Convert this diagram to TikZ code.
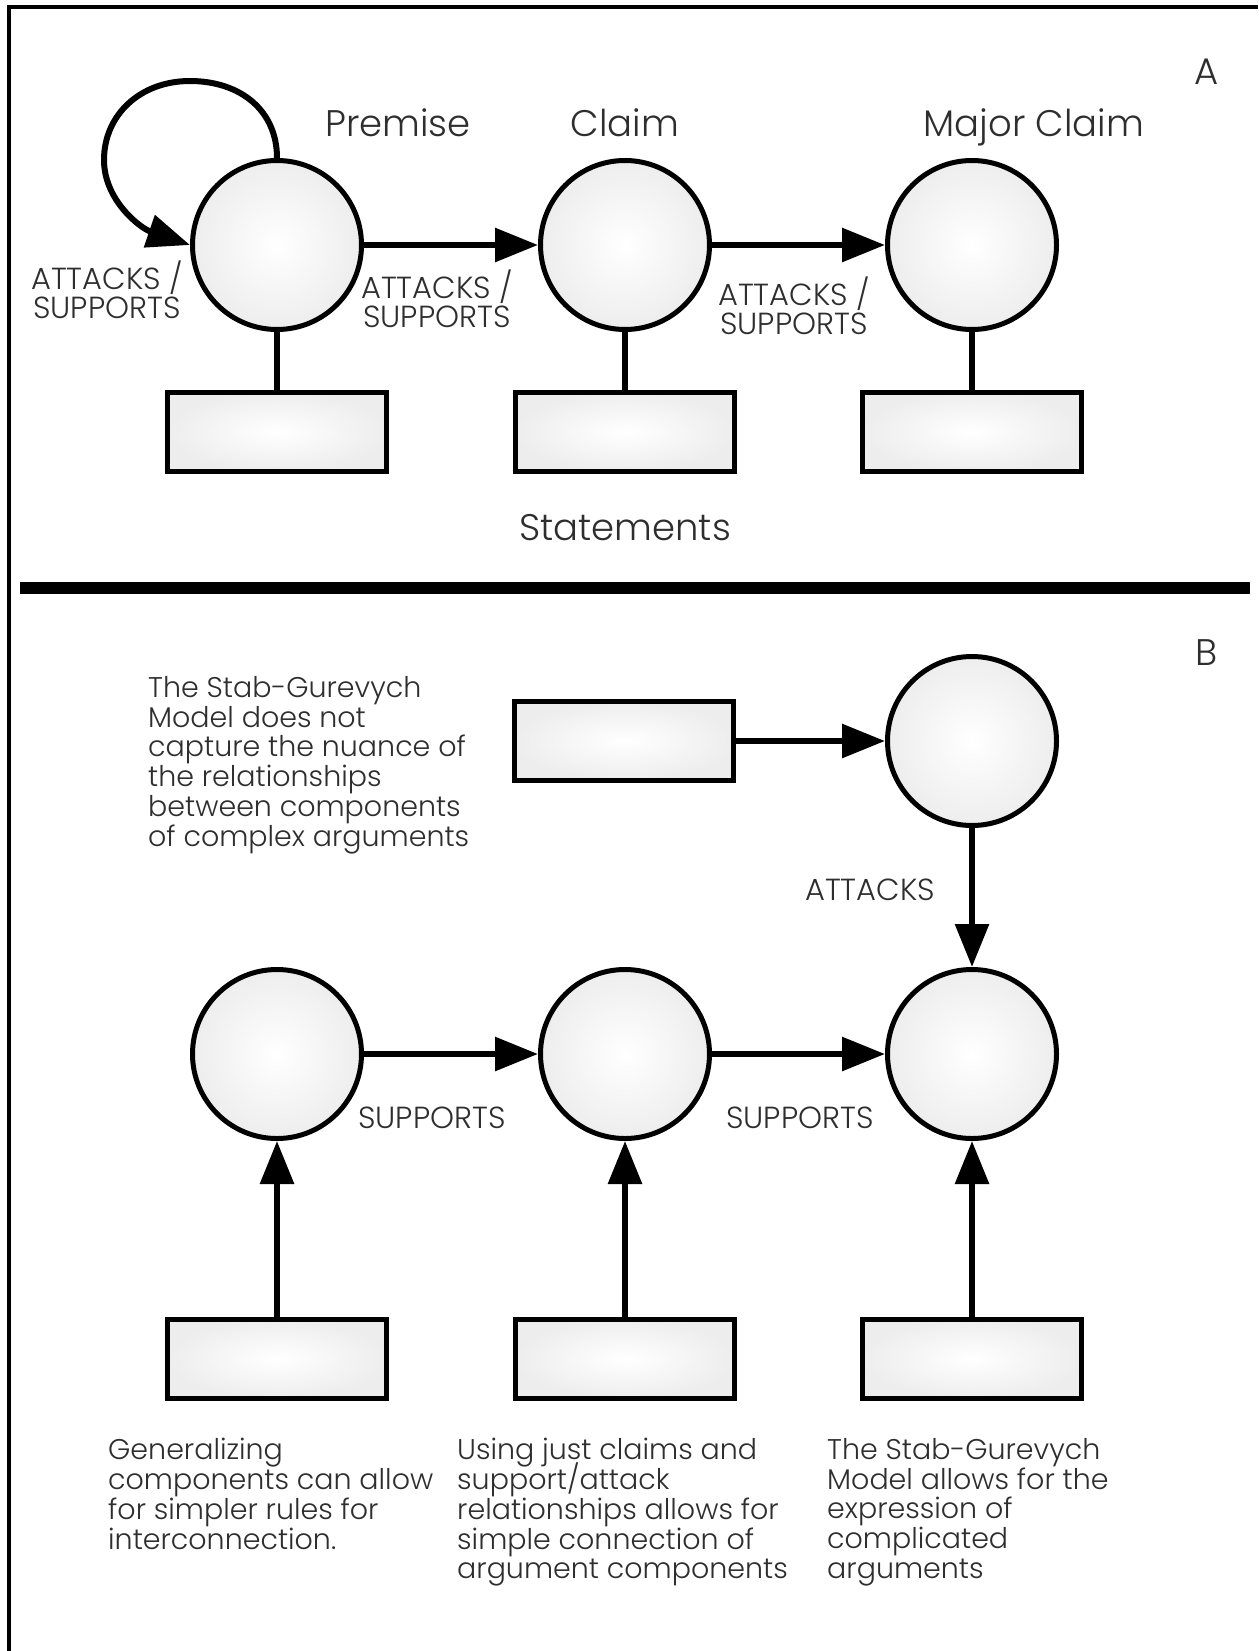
\documentclass[tikz,border=0pt]{standalone}
\usepackage{fontspec}
\setmainfont{Poppins Light}
\usetikzlibrary{arrows.meta}
\definecolor{ink}{HTML}{2E2E2E}
\lineskiplimit=-100pt
\begin{document}
\begin{tikzpicture}[x=1pt,y=-1pt,
  shell/.style={draw=black,line width=5pt,inner sep=0pt,
    inner color=white,outer color=black!7},
  comp/.style={shell,circle,minimum size=169pt},
  stmt/.style={shell,rectangle,minimum width=219pt,minimum height=79pt},
  arr/.style={line width=6pt,-{Triangle[length=43pt,width=33pt]}},
  stem/.style={line width=6pt},
  title/.style={text=ink,inner sep=0pt,anchor=base,font=\fontsize{37}{40}\selectfont},
  rel/.style={text=ink,inner sep=0pt,align=center,font=\fontsize{30.5}{29}\selectfont},
  note/.style={text=ink,inner sep=0pt,align=left,anchor=north west,font=\fontsize{28.5}{29.8}\selectfont}]
\useasboundingbox (0,0) rectangle (1258,1651);
\fill[white] (0,0) rectangle (1258,1651);

% frame and divider
\draw[line width=4.5pt] (9,1651) -- (9,7) -- (1258,7);
\draw[line width=12pt] (20,588) -- (1250,588);

% ---- panel A ----
\node[title] (labA) at (1207,85) {A};
\node[comp] (prem) at (277,245) {};
\node[comp] (clm) at (625,245) {};
\node[comp] (mclm) at (972,245) {};
\node[stmt] (s1) at (277,432) {};
\node[stmt] (s2) at (625,432) {};
\node[stmt] (s3) at (972,432) {};
\node[title] (tprem) at (398,137) {Premise};
\node[title] (tclm) at (625,137) {Claim};
\node[title] (tmclm) at (1034,137) {Major Claim};
\node[title] (tstmt) at (625,540) {Statements};

\draw[stem] (prem.south) -- (s1.north);
\draw[stem] (clm.south) -- (s2.north);
\draw[stem] (mclm.south) -- (s3.north);

\draw[arr] (prem.east) -- (clm.west);
\draw[arr] (clm.east) -- (mclm.west);
\draw[arr] (prem.north) .. controls (277,110) and (240,81) .. (190,81)
  .. controls (140,81) and (104,115) .. (104,160)
  .. controls (104,200) and (140,228) .. (prem.west);

\node[rel] (r0) at (107,290) {ATTACKS /\\SUPPORTS};
\node[rel] (r1) at (437,299) {ATTACKS /\\SUPPORTS};
\node[rel] (r2) at (794,306) {ATTACKS /\\SUPPORTS};

% ---- panel B ----
\node[title] (labB) at (1207,665) {B};
\node[stmt] (bs0) at (624,741) {};
\node[comp] (bc0) at (972,741) {};
\node[comp] (bc1) at (277,1054) {};
\node[comp] (bc2) at (625,1054) {};
\node[comp] (bc3) at (972,1054) {};
\node[stmt] (bs1) at (277,1359) {};
\node[stmt] (bs2) at (625,1359) {};
\node[stmt] (bs3) at (972,1359) {};

\draw[arr] (bs0.east) -- (bc0.west);
\draw[arr] (bc0.south) -- (bc3.north);
\draw[arr] (bc1.east) -- (bc2.west);
\draw[arr] (bc2.east) -- (bc3.west);
\draw[arr] (bs1.north) -- (bc1.south);
\draw[arr] (bs2.north) -- (bc2.south);
\draw[arr] (bs3.north) -- (bc3.south);

\node[rel] (ratt) at (870,890) {ATTACKS};
\node[rel] (rsup1) at (432,1118) {SUPPORTS};
\node[rel] (rsup2) at (800,1118) {SUPPORTS};

\node[note] (n0) at (148,676) {The Stab-Gurevych\\Model does not\\capture the nuance of\\the relationships\\between components\\of complex arguments};
\node[note] (n1) at (108,1438) {Generalizing\\components can allow\\for simpler rules for\\interconnection.};
\node[note] (n2) at (457,1438) {Using just claims and\\support/attack\\relationships allows for\\simple connection of\\argument components};
\node[note] (n3) at (827,1438) {The Stab-Gurevych\\Model allows for the\\expression of\\complicated\\arguments};
\end{tikzpicture}
\end{document}
